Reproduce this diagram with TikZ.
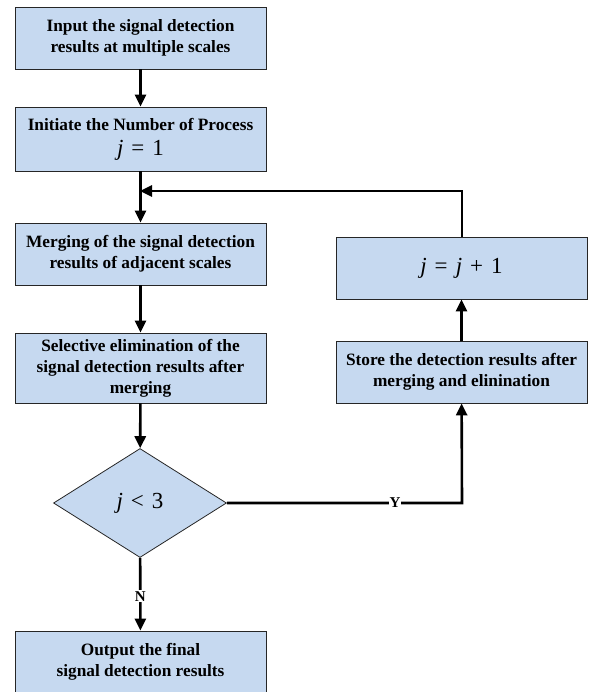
\documentclass[tikz,border=0pt]{standalone}
\usepackage{fontspec}
\setmainfont{Liberation Serif}
\usetikzlibrary{arrows.meta,shapes.geometric}
\definecolor{boxfill}{RGB}{198,217,240}
\newcommand{\mgap}{\hspace{0.35em}}
\newcommand{\mfont}{\normalfont\fontsize{23}{26}\selectfont}
\begin{document}
\begin{tikzpicture}[x=1pt,y=-1pt,
  box/.style={draw=black!85,line width=0.8pt,fill=boxfill,minimum width=251pt,align=center,inner sep=2pt,font=\bfseries\fontsize{17.3}{21}\selectfont},
  dec/.style={draw=black!85,line width=0.8pt,fill=boxfill,diamond,minimum width=173pt,minimum height=109pt,inner sep=0pt,aspect=1.6},
  conn/.style={line width=2.6pt,-{Triangle[length=12pt,width=11pt]}},
  lbl/.style={fill=white,inner sep=1pt,font=\bfseries\fontsize{15}{17}\selectfont}]
\useasboundingbox (0,0) rectangle (590,692);
\node[box,minimum height=62pt] (b1) at (140.5,38) {Input the signal detection\\results at multiple scales};
\node[box,minimum height=64pt] (b2) at (140.5,139) {Initiate the Number of Process\\[4pt]{\mfont\textit{j}\mgap=\mgap1}};
\node[box,minimum height=62pt] (b3) at (140.5,254) {Merging of the signal detection\\results of adjacent scales};
\node[box,minimum height=70pt] (b4) at (140.5,368) {Selective elimination of the\\signal detection results after\\merging};
\node[dec] (d) at (140,503) {};
\node[font=\mfont] at (d.center) {\textit{j}\mgap<\mgap3};
\node[box,minimum height=62pt] (b5) at (140.5,662) {Output the final\\signal detection results};
\node[box,minimum height=62pt] (bj) at (461.5,268) {\mfont\textit{j}\mgap=\mgap\textit{j}\mgap+\mgap1};
\node[box,minimum height=62pt] (bs) at (461.5,372) {Store the detection results after\\merging and elinination};
\coordinate (loop) at (462,191);
\coordinate (yc) at (462,503);
\draw[conn] (b1) -- (b2);
\draw[conn] (b2) -- (b3);
\draw[conn] (b3) -- (b4);
\draw[conn] (b4) -- (d);
\draw[conn] (d) -- node[lbl,pos=0.53] {N} (b5);
\draw[conn] (d.east) -- (yc) -- (bs);
\node[lbl] at (395,503) {Y};
\draw[conn] (bj.north -| loop) -- (loop) -- (140,191);
\draw[conn] (bs) -- (bj);
\end{tikzpicture}
\end{document}
